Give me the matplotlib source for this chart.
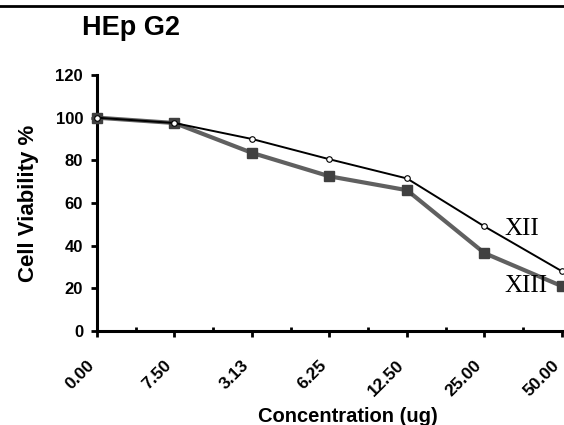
import matplotlib
matplotlib.use("Agg")
import matplotlib.pyplot as plt
from matplotlib.lines import Line2D

# data
concentrations = ["0.00", "7.50", "3.13", "6.25", "12.50", "25.00", "50.00"]
viability_xii = [100, 97.5, 90, 80.5, 71.5, 49, 28]
viability_xiii = [100, 97.5, 83.5, 72.5, 66, 36.5, 21]
y_ticks = [0, 20, 40, 60, 80, 100, 120]

plt.rcParams['font.family'] = ['Liberation Sans', 'DejaVu Sans']

fig = plt.figure(figsize=(5.64, 4.25), dpi=100)
ax = fig.add_axes([97 / 564, 94 / 425, 1 - 97 / 564, 256 / 425])

x = list(range(len(concentrations)))

# XIII: grey line with filled squares
ax.plot(x, viability_xiii, color='#606060', linewidth=3, marker='s',
        markersize=7, markerfacecolor='#404040', markeredgecolor='#404040',
        clip_on=False, zorder=3)
# XII: thin black line with open circles
ax.plot(x, viability_xii, color='black', linewidth=1.4, marker='o',
        markersize=4, markerfacecolor='white', markeredgecolor='black',
        markeredgewidth=0.8, clip_on=False, zorder=4)

ax.set_xlim(0, 6.026)
ax.set_ylim(0, 120)
ax.set_yticks(y_ticks)
ax.set_xticks(x)
ax.set_xticks([i + 0.5 for i in x[:-1]], minor=True)
ax.set_xticklabels(concentrations, rotation=45, ha='right',
                   fontsize=12.5, fontweight='bold')
for lbl in ax.get_yticklabels():
    lbl.set_fontsize(12)
    lbl.set_fontweight('bold')

ax.spines['top'].set_visible(False)
ax.spines['right'].set_visible(False)
ax.spines['left'].set_linewidth(2.2)
ax.spines['bottom'].set_linewidth(2.2)
ax.tick_params(axis='y', direction='out', length=4, width=2, pad=6)
ax.tick_params(axis='x', which='major', direction='out', length=4, width=2, pad=15)
ax.tick_params(axis='x', which='minor', direction='in', length=3, width=2)

ax.set_ylabel('Cell Viability %', fontsize=16, fontweight='bold', labelpad=12)
ax.set_xlabel('Concentration (ug)', fontsize=14.5, fontweight='bold')
ax.xaxis.set_label_coords((348 - 97) / 467, -0.295)

# series names next to the line ends
ax.text(5.26, 48, 'XII', fontsize=18, family=['Liberation Serif', 'DejaVu Serif'],
        va='center', ha='left')
ax.text(5.26, 21, 'XIII', fontsize=18, family=['Liberation Serif', 'DejaVu Serif'],
        va='center', ha='left')

fig.text(82 / 564, 1 - 35 / 425, 'HEp G2', fontsize=19.5, fontweight='bold',
         ha='left', va='baseline')
fig.add_artist(Line2D([0, 1], [1 - 6 / 425, 1 - 6 / 425], color='black',
                      linewidth=2, transform=fig.transFigure))

fig.savefig('out.png', dpi=100)
